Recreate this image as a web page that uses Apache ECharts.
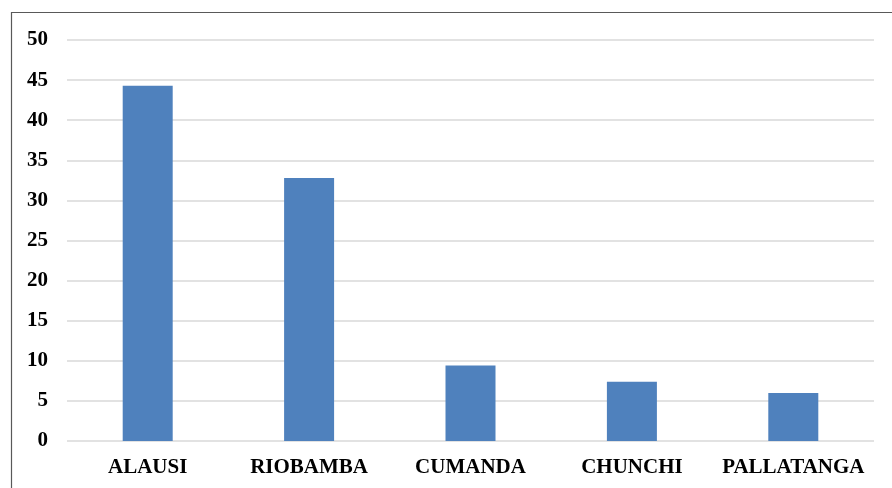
<!DOCTYPE html>
<html>
<head>
<meta charset="utf-8">
<script src="https://cdn.jsdelivr.net/npm/echarts@6/dist/echarts.min.js"></script>
<style>
  html, body { margin: 0; padding: 0; background: #fff; }
  #chart { width: 892px; height: 488px; }
</style>
</head>
<body>
<div id="chart"></div>
<script>
// Cantones y sus valores
const categories = ['ALAUSI', 'RIOBAMBA', 'CUMANDA', 'CHUNCHI', 'PALLATANGA'];
const values = [44.3, 32.8, 9.4, 7.4, 6.0];
const yTicks = { min: 0, max: 50, interval: 5 };

const chart = echarts.init(document.getElementById('chart'));
const labelFont = {
  fontFamily: '"Liberation Serif", "Times New Roman", serif',
  fontWeight: 'bold',
  fontSize: 21,
  color: '#000'
};

chart.setOption({
  animation: false,
  grid: { left: 67, right: 18, top: 40, bottom: 47 },
  graphic: [{
    type: 'rect',
    left: 9, top: 10,
    shape: { width: 900, height: 500 },
    style: { fill: 'none', stroke: '#595959', lineWidth: 1.2 },
    silent: true
  }],
  xAxis: {
    type: 'category',
    data: categories,
    axisLine: { show: false },
    axisTick: { show: false },
    axisLabel: Object.assign({ margin: 16, interval: 0 }, labelFont)
  },
  yAxis: {
    type: 'value',
    min: yTicks.min, max: yTicks.max, interval: yTicks.interval,
    axisLine: { show: false },
    axisTick: { show: false },
    axisLabel: Object.assign({ margin: 19 }, labelFont),
    splitLine: { lineStyle: { color: '#d9d9d9', width: 1.5 } }
  },
  series: [{
    type: 'bar',
    data: values,
    barWidth: 50,
    itemStyle: { color: '#4f81bd' }
  }]
});
</script>
</body>
</html>
